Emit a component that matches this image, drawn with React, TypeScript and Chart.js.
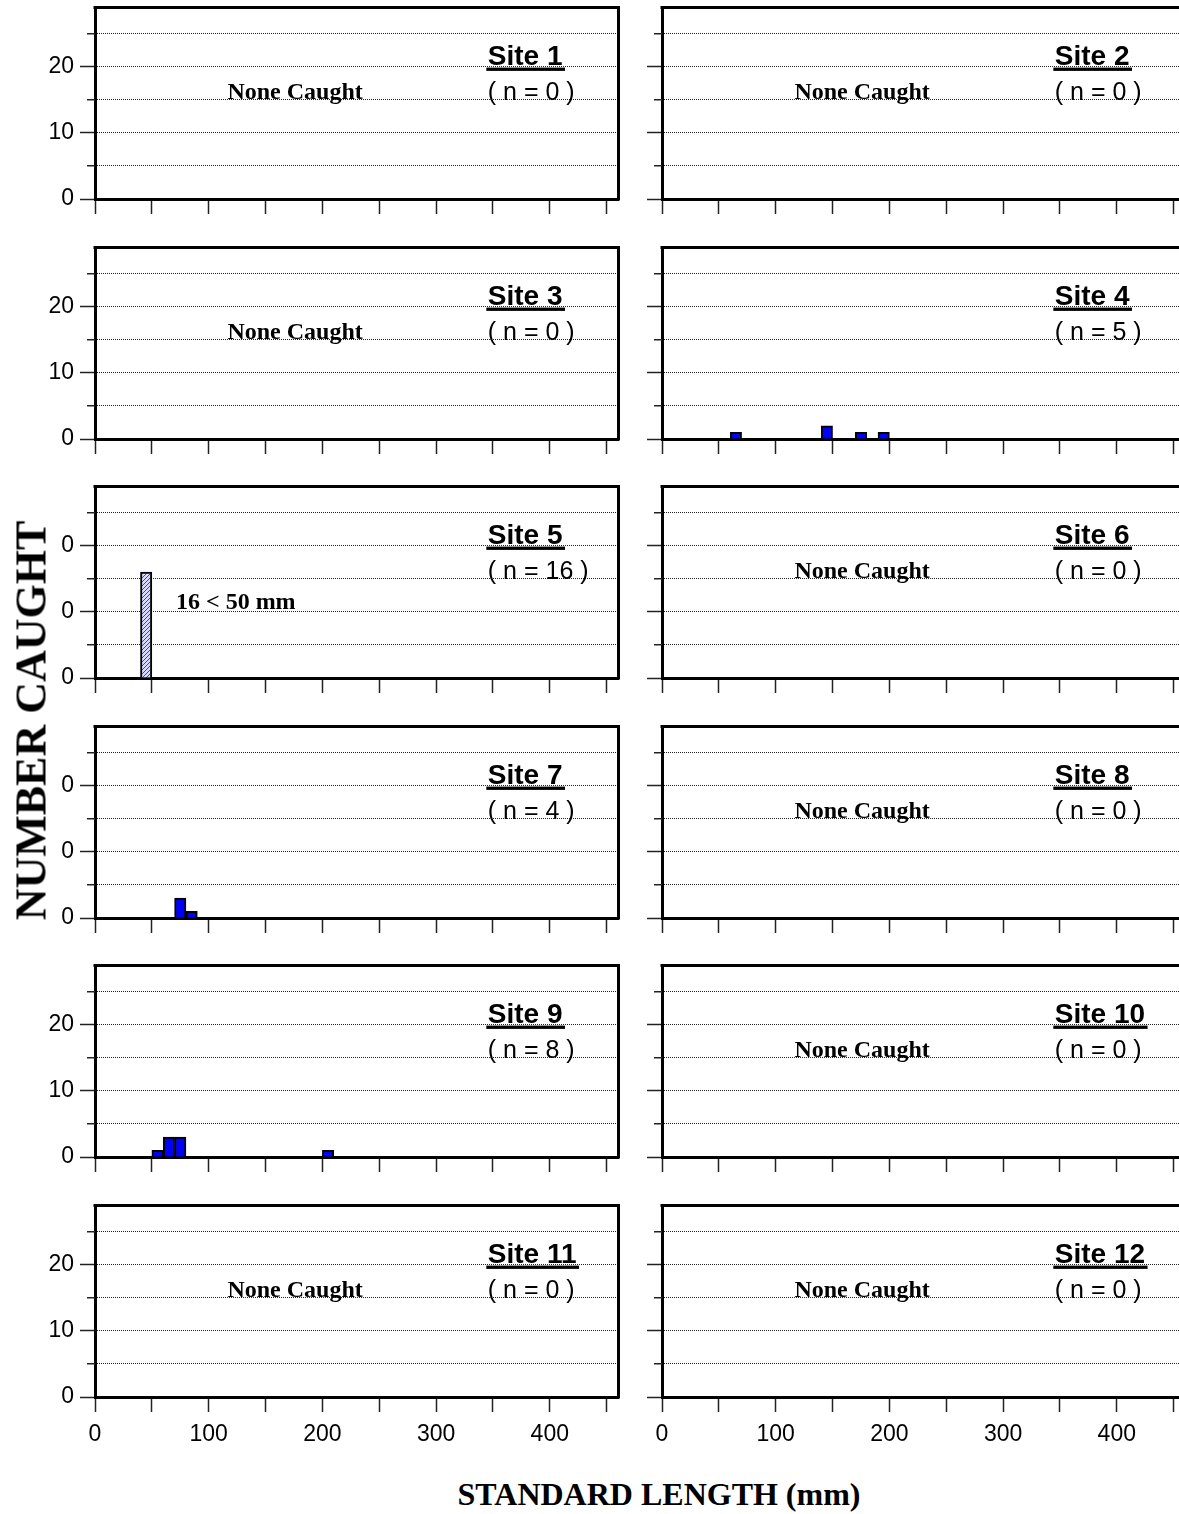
import React, { useEffect, useRef } from 'react';
import { Chart, registerables } from 'chart.js';

Chart.register(...registerables);
Chart.defaults.font.family = '"Liberation Sans", Arial, sans-serif';

// ---------- data ----------
const siteNames = ['Site 1', 'Site 2', 'Site 3', 'Site 4', 'Site 5', 'Site 6', 'Site 7', 'Site 8', 'Site 9', 'Site 10', 'Site 11', 'Site 12'];
const siteCatchN = [0, 0, 0, 5, 16, 0, 4, 0, 8, 0, 0, 0];

// 10 mm histogram bins: start of bin (mm) and number caught
const site4BinStarts = [60, 140, 170, 190];
const site4Counts = [1, 2, 1, 1];
const site5BinStarts = [40];
const site5Counts = [16];
const site7BinStarts = [70, 80];
const site7Counts = [3, 1];
const site9BinStarts = [50, 60, 70, 200];
const site9Counts = [1, 3, 3, 1];
const emptyBins: number[] = [];

const siteBinStarts = [emptyBins, emptyBins, emptyBins, site4BinStarts, site5BinStarts, emptyBins, site7BinStarts, emptyBins, site9BinStarts, emptyBins, emptyBins, emptyBins];
const siteCounts = [emptyBins, emptyBins, emptyBins, site4Counts, site5Counts, emptyBins, site7Counts, emptyBins, site9Counts, emptyBins, emptyBins, emptyBins];

const hatchedSites = [5];
const site5Note = '16 < 50 mm';
const noneCaughtText = 'None Caught';

const BIN_WIDTH = 10;
const X_MAX = 460;
const Y_MAX = 29;
const yTickValues = [0, 5, 10, 15, 20, 25];
const yLabelValues = [0, 10, 20];
const xTickValues = [0, 50, 100, 150, 200, 250, 300, 350, 400, 450];
const xLabelValues = [0, 100, 200, 300, 400];

// annotation anchors in data units
const LABEL_X = 345.5;
const SITE_BASE_Y = 20.3;
const N_BASE_Y = 15.0;
const NONE_X = 176;
const NONE_BASE_Y = 15.1;
const NOTE_X = 71.2;
const NOTE_BASE_Y = 10.4;

// ---------- layout ----------
const PANEL_FIRST_BOTTOM = 199;
const PANEL_ROW_STEP = 239.6;
const PLOT_H = 192;
const TOP_PAD = 26;

function buildBins(starts: number[], counts: number[]) {
  const out: { x: number; y: number | null }[] = [];
  for (let b = 0; b < X_MAX; b += BIN_WIDTH) {
    const k = starts.indexOf(b);
    out.push({ x: b + BIN_WIDTH / 2, y: k >= 0 ? counts[k] : null });
  }
  return out;
}

function makeHatch(ctx: CanvasRenderingContext2D) {
  const c = document.createElement('canvas');
  c.width = 4;
  c.height = 4;
  const g = c.getContext('2d')!;
  g.fillStyle = '#d8d8ff';
  g.fillRect(0, 0, 4, 4);
  g.fillStyle = '#3b3bff';
  for (let i = 0; i < 4; i++) g.fillRect(3 - i, i, 1, 1);
  return ctx.createPattern(c, 'repeat');
}

const align = (p: number, w: number) => Math.round(p - w / 2) + w / 2;

const decorPlugin = {
  id: 'panelDecor',
  afterDraw(chart: any, _args: any, opts: any) {
    const { ctx, chartArea: a } = chart;
    const xs = chart.scales.x;
    const ys = chart.scales.y;
    const idx: number = opts.index;
    ctx.save();
    // minor y ticks
    ctx.strokeStyle = '#222';
    ctx.lineWidth = 1.5;
    yTickValues.filter((v) => !yLabelValues.includes(v)).forEach((v) => {
      const py = align(ys.getPixelForValue(v), 1.5);
      ctx.beginPath();
      ctx.moveTo(a.left - 8, py);
      ctx.lineTo(a.left, py);
      ctx.stroke();
    });
    // top and right frame
    ctx.strokeStyle = '#000';
    ctx.lineWidth = 3;
    const t = align(a.top, 3);
    const r = align(a.right, 3);
    ctx.beginPath();
    ctx.moveTo(a.left - 1.5, t);
    ctx.lineTo(r, t);
    ctx.lineTo(r, a.bottom + 1.5);
    ctx.stroke();

    // site label
    ctx.fillStyle = '#000';
    ctx.textAlign = 'left';
    ctx.textBaseline = 'alphabetic';
    ctx.font = 'bold 28px "Liberation Sans"';
    const lx = xs.getPixelForValue(LABEL_X);
    const ly = ys.getPixelForValue(SITE_BASE_Y);
    const name = siteNames[idx];
    ctx.fillText(name, lx, ly);
    const w = ctx.measureText(name).width;
    ctx.fillRect(lx - 1.5, ly + 3, w + 4, 3.3);
    ctx.font = '25px "Liberation Sans"';
    ctx.fillText('( n = ' + siteCatchN[idx] + ' )', lx, ys.getPixelForValue(N_BASE_Y));

    if (siteCatchN[idx] === 0) {
      ctx.font = 'bold 24px "Liberation Serif"';
      ctx.textAlign = 'center';
      ctx.fillText(noneCaughtText, xs.getPixelForValue(NONE_X), ys.getPixelForValue(NONE_BASE_Y));
    }
    if (idx + 1 === 5) {
      ctx.font = 'bold 24px "Liberation Serif"';
      ctx.textAlign = 'left';
      ctx.fillText(site5Note, xs.getPixelForValue(NOTE_X), ys.getPixelForValue(NOTE_BASE_Y));
    }
    ctx.restore();
  },
};

function Panel({ index }: { index: number }) {
  const ref = useRef<HTMLCanvasElement>(null);
  const row = Math.floor(index / 2);
  const col = index % 2;
  const bottom = Math.round(PANEL_FIRST_BOTTOM + row * PANEL_ROW_STEP);
  const isBottom = row === 5;
  const xh = isBottom ? 54 : 24;
  const left = col === 0 ? 0 : 620;
  const width = col === 0 ? 640 : 600;
  const yw = col === 0 ? 95 : 42;
  const padRight = col === 0 ? 22 : 35;
  const top = bottom - PLOT_H - TOP_PAD;
  const height = TOP_PAD + PLOT_H + xh;

  useEffect(() => {
    const canvas = ref.current!;
    const ctx = canvas.getContext('2d')!;
    const hatched = hatchedSites.includes(index + 1);
    const fill: any = hatched ? makeHatch(ctx) : '#0000ff';
    const chart = new Chart(canvas, {
      type: 'bar',
      data: {
        datasets: [
          {
            data: buildBins(siteBinStarts[index], siteCounts[index]) as any,
            backgroundColor: fill,
            borderColor: '#000',
            borderWidth: 2,
            barPercentage: 1,
            categoryPercentage: 1,
          },
        ],
      },
      plugins: [decorPlugin as any],
      options: {
        animation: false,
        responsive: false,
        devicePixelRatio: 1,
        events: [],
        layout: { padding: { top: TOP_PAD, right: padRight, left: 0, bottom: 0 } },
        plugins: {
          legend: { display: false },
          tooltip: { enabled: false },
          title: { display: false },
          panelDecor: { index },
        } as any,
        scales: {
          x: {
            type: 'linear',
            min: 0,
            max: X_MAX,
            offset: false,
            afterBuildTicks: (s: any) => {
              s.ticks = xTickValues.map((v) => ({ value: v }));
            },
            afterFit: (s: any) => {
              s.height = xh;
            },
            ticks: {
              display: isBottom,
              autoSkip: false,
              maxRotation: 0,
              minRotation: 0,
              padding: 9,
              color: '#000',
              font: { family: '"Liberation Sans"', size: 23 },
              callback: (v: any) => (xLabelValues.includes(Number(v)) ? String(v) : ''),
            },
            grid: {
              drawOnChartArea: false,
              offset: false,
              drawTicks: true,
              tickLength: 15,
              tickColor: '#222',
              tickWidth: 1.5,
            },
            border: { display: true, color: '#000', width: 3 },
          },
          y: {
            type: 'linear',
            min: 0,
            max: Y_MAX,
            afterBuildTicks: (s: any) => {
              s.ticks = yTickValues.map((v) => ({ value: v }));
            },
            afterFit: (s: any) => {
              s.width = yw;
            },
            ticks: {
              display: col === 0,
              autoSkip: false,
              padding: 6,
              color: '#000',
              font: { family: '"Liberation Sans"', size: 23 },
              callback: (v: any) => (yLabelValues.includes(Number(v)) ? String(v) : ''),
            },
            grid: {
              drawOnChartArea: true,
              drawTicks: true,
              tickLength: 15,
              lineWidth: 1,
              color: (c: any) => (c.tick && c.tick.value === 0 ? 'rgba(0,0,0,0)' : '#222'),
              tickColor: (c: any) => (c.tick && yLabelValues.includes(c.tick.value) ? '#222' : 'rgba(0,0,0,0)'),
              tickWidth: 1.5,
            },
            border: { display: true, color: '#000', width: 3, dash: [1, 1] },
          },
        },
      } as any,
    });
    return () => chart.destroy();
  }, []);

  return (
    <canvas
      ref={ref}
      width={width}
      height={height}
      style={{ position: 'absolute', left, top, width, height }}
    />
  );
}

export default function App() {
  return (
    <div
      style={{
        position: 'absolute',
        left: 0,
        top: 0,
        width: 1179,
        height: 1514,
        overflow: 'hidden',
        background: '#fff',
      }}
    >
      {siteNames.map((_, i) => (
        <Panel key={i} index={i} />
      ))}
      <div
        style={{
          position: 'absolute',
          left: 30.5 - 205,
          top: 720 - 30.5,
          width: 410,
          height: 61,
          lineHeight: '61px',
          transform: 'rotate(-90deg)',
          transformOrigin: 'center center',
          background: '#fff',
          textAlign: 'center',
          fontFamily: '"Liberation Serif", serif',
          fontWeight: 'bold',
          fontSize: 44,
          color: '#000',
          whiteSpace: 'nowrap',
        }}
      >
        NUMBER CAUGHT
      </div>
      <div
        style={{
          position: 'absolute',
          left: 659 - 300,
          top: 1474,
          width: 600,
          height: 40,
          lineHeight: '40px',
          textAlign: 'center',
          fontFamily: '"Liberation Serif", serif',
          fontWeight: 'bold',
          fontSize: 32,
          color: '#000',
          whiteSpace: 'nowrap',
        }}
      >
        STANDARD LENGTH (mm)
      </div>
    </div>
  );
}
